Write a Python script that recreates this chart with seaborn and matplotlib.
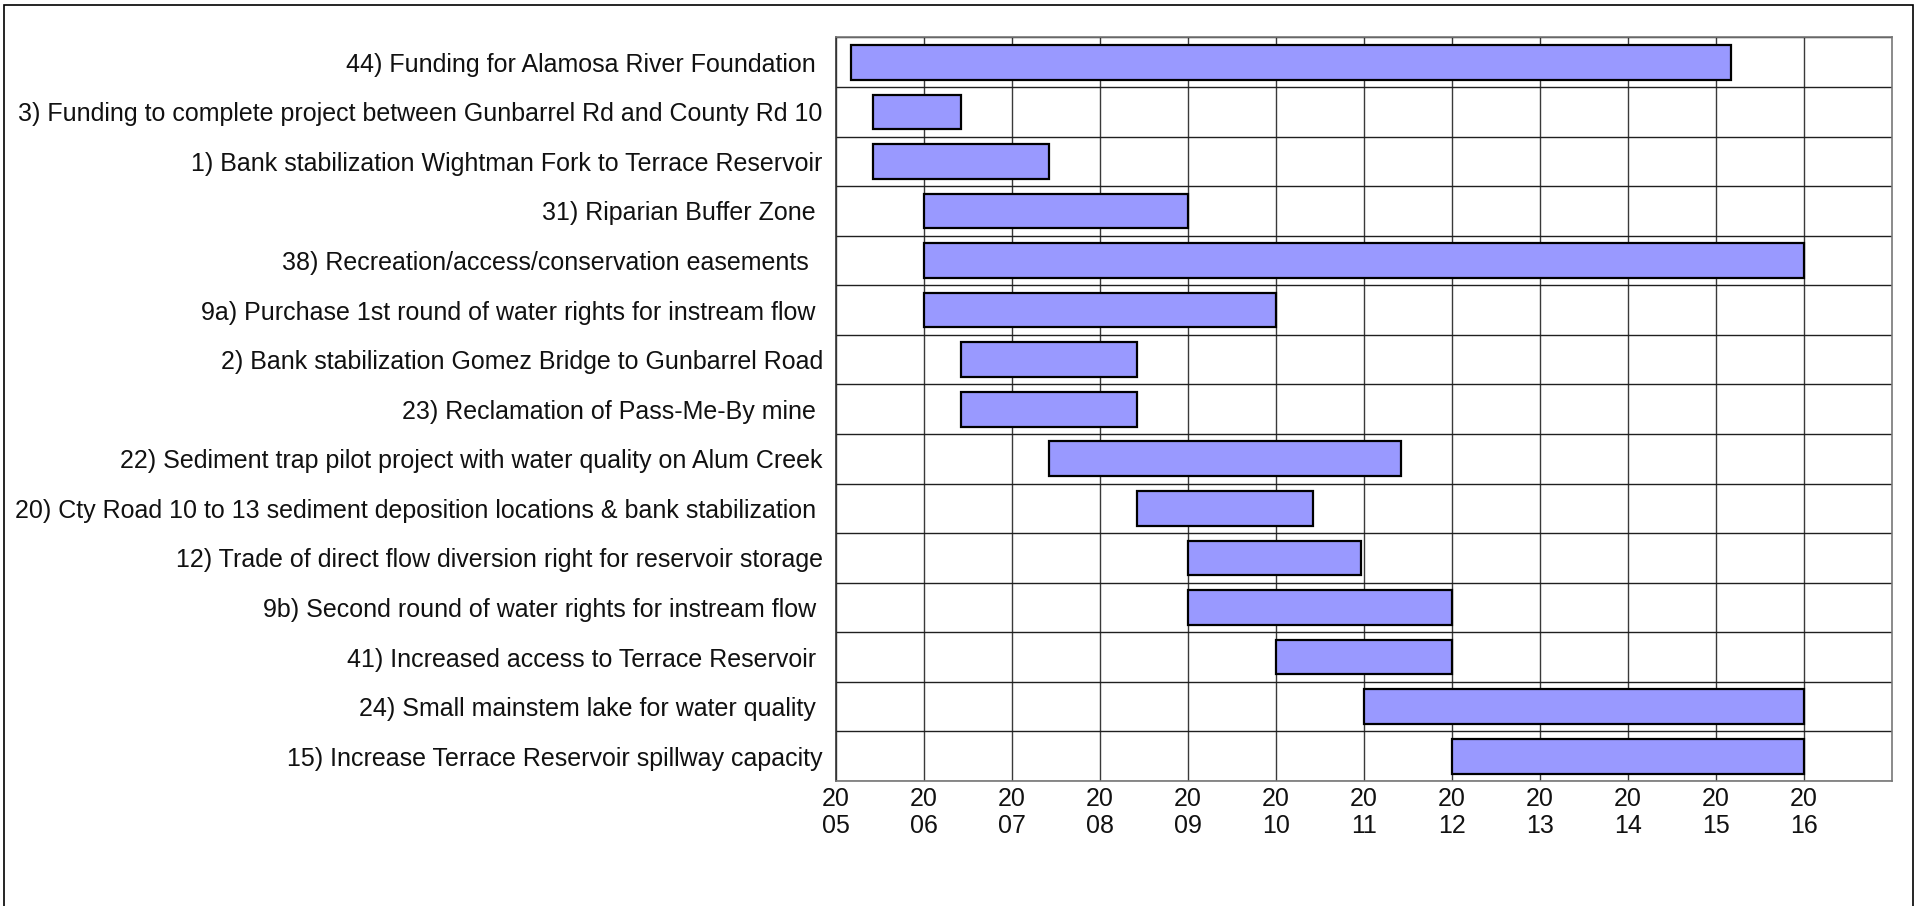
import numpy as np
import pandas as pd
import matplotlib
matplotlib.use('Agg')
import matplotlib.pyplot as plt
import matplotlib.font_manager as fm
from matplotlib.patches import Rectangle
import seaborn as sns

# project list, top to bottom
tasks = [
    '44) Funding for Alamosa River Foundation ',
    '3) Funding to complete project between Gunbarrel Rd and County Rd 10',
    '1) Bank stabilization Wightman Fork to Terrace Reservoir',
    '31) Riparian Buffer Zone ',
    '38) Recreation/access/conservation easements  ',
    '9a) Purchase 1st round of water rights for instream flow ',
    '2) Bank stabilization Gomez Bridge to Gunbarrel Road',
    '23) Reclamation of Pass-Me-By mine ',
    '22) Sediment trap pilot project with water quality on Alum Creek',
    '20) Cty Road 10 to 13 sediment deposition locations & bank stabilization ',
    '12) Trade of direct flow diversion right for reservoir storage',
    '9b) Second round of water rights for instream flow ',
    '41) Increased access to Terrace Reservoir ',
    '24) Small mainstem lake for water quality ',
    '15) Increase Terrace Reservoir spillway capacity',
]
start = [2005.17, 2005.42, 2005.42, 2006.0, 2006.0, 2006.0, 2006.42, 2006.42,
         2007.42, 2008.42, 2009.0, 2009.0, 2010.0, 2011.0, 2012.0]
end = [2015.17, 2006.42, 2007.42, 2009.0, 2016.0, 2010.0, 2008.42, 2008.42,
       2011.42, 2010.42, 2010.97, 2012.0, 2012.0, 2016.0, 2016.0]
years = [2005, 2006, 2007, 2008, 2009, 2010, 2011, 2012, 2013, 2014, 2015, 2016]
year_labels = ['20\n05', '20\n06', '20\n07', '20\n08', '20\n09', '20\n10',
               '20\n11', '20\n12', '20\n13', '20\n14', '20\n15', '20\n16']

sns.set_style('white')
names = {f.name for f in fm.fontManager.ttflist}
if 'Liberation Sans Narrow' in names:
    fam, fsize = 'Liberation Sans Narrow', 22
else:
    fam, fsize = 'Liberation Sans', 18
plt.rcParams['font.family'] = [fam, 'DejaVu Sans']

df = pd.DataFrame({'task': tasks, 'start': start, 'end': end})
df['length'] = df['end'] - df['start']

W, H = 1917, 906
fig = plt.figure(figsize=(W / 100, H / 100), dpi=100)
ax = fig.add_axes([836 / W, 1 - 781 / H, (1892 - 836) / W, (781 - 37.5) / H])

sns.barplot(data=df, x='length', y='task', order=tasks, left=df['start'].to_numpy(),
            color='#9999ff', saturation=1, edgecolor='black', linewidth=1.6,
            width=0.7, errorbar=None, ax=ax)

ax.set_xlim(2005, 2017)
ax.set_ylim(len(tasks) - 0.5, -0.5)
ax.set_xticks(years)
ax.set_xticklabels(year_labels, fontsize=fsize, color='#111111')
ax.set_yticks(range(len(tasks)))
ax.set_yticklabels(tasks, fontsize=fsize, color='#111111')
ax.set_yticks(np.arange(-0.5, len(tasks)), minor=True)
ax.set_xlabel('')
ax.set_ylabel('')

ax.set_axisbelow(True)
ax.grid(axis='x', which='major', color='#3a3a3a', lw=1.0)
ax.grid(axis='y', which='minor', color='#202020', lw=1.0)
ax.grid(axis='y', which='major', visible=False)

ax.tick_params(axis='x', which='major', length=0, pad=4)
ax.tick_params(axis='y', which='major', length=0, pad=9.5)
ax.tick_params(axis='y', which='minor', length=6, width=1, color='#444444', direction='out')

for side in ['top', 'right', 'bottom']:
    ax.spines[side].set_color('#777777')
    ax.spines[side].set_linewidth(1.2)
ax.spines['left'].set_color('#333333')
ax.spines['left'].set_linewidth(1.2)

# outer frame of the picture
fig.add_artist(Rectangle((4 / W, -0.05), (1913 - 4) / W, 1.05 - 5 / H,
                         transform=fig.transFigure, fill=False, ec='black', lw=1.2))

fig.savefig('out.png', dpi=100)
